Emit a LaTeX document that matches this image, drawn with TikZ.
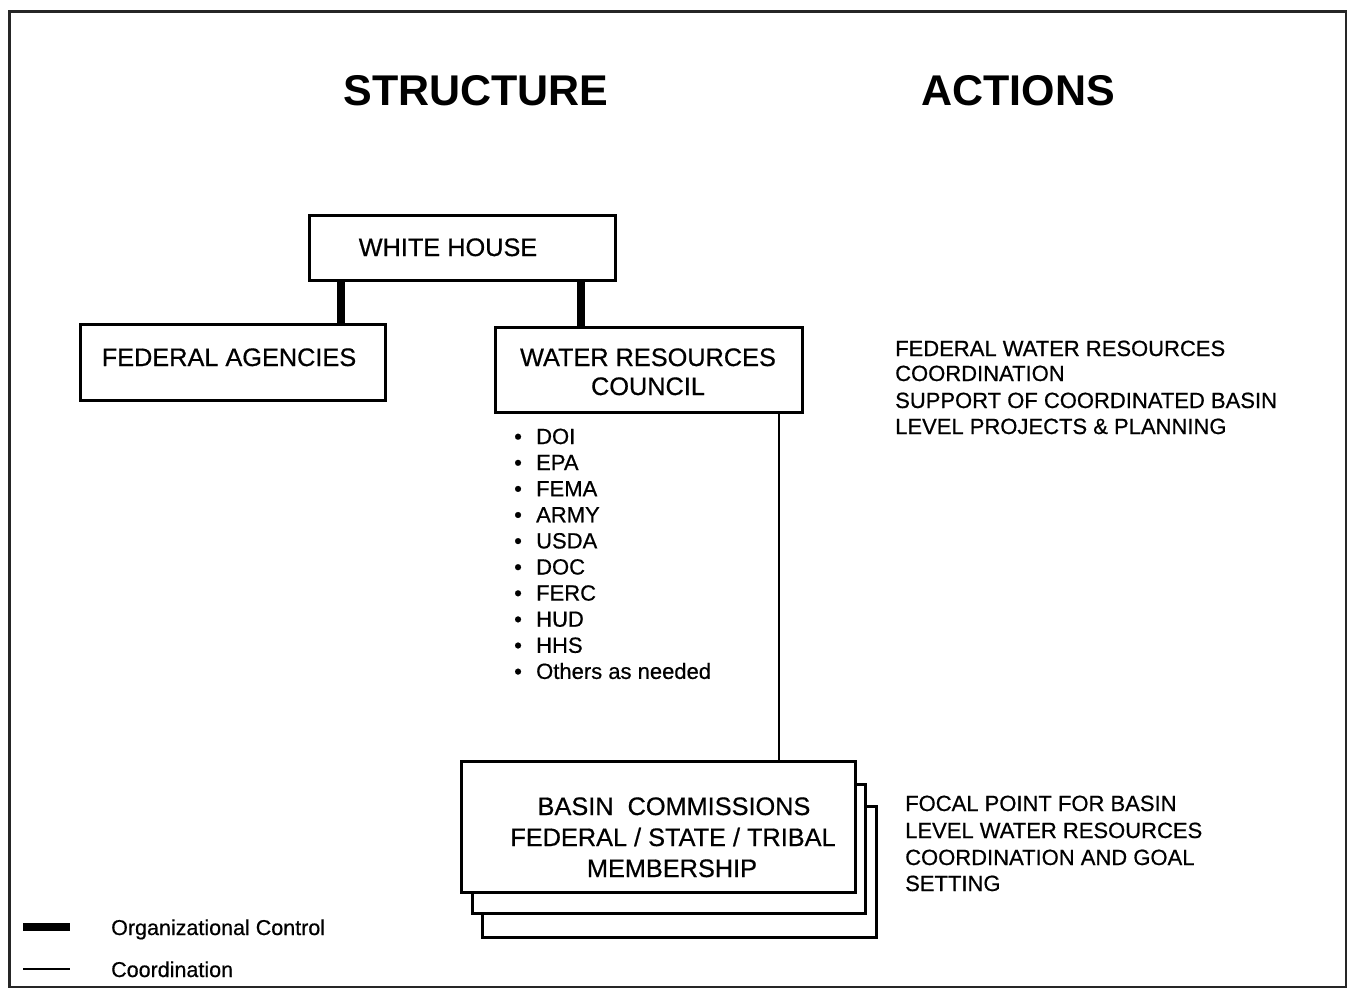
\documentclass[tikz,border=0pt]{standalone}
\usepackage{fontspec}
\setmainfont{Liberation Sans}[UprightFeatures={FakeBold=0.6}]
\begin{document}
\begin{tikzpicture}[x=1pt,y=-1pt,
  box/.style={draw=black, line width=3pt, fill=white, inner sep=0pt},
  ctrl/.style={line width=8pt},
  coordl/.style={line width=1.8pt},
  lbl/.style={anchor=base west, inner sep=0pt, font=\fontsize{22}{26}\selectfont},
  leg/.style={anchor=base west, inner sep=0pt, font=\fontsize{21.5}{26}\selectfont},
  boxtxt/.style={anchor=base, inner sep=0pt, font=\fontsize{25.3}{30}\selectfont},
  ttl/.style={anchor=base, inner sep=0pt, font=\bfseries\fontsize{43}{50}\selectfont}]
\useasboundingbox (0,0) rectangle (1347,988);
\fill[white] (0,0) rectangle (1347,988);
\draw[black!85, line width=3pt] (9,11) rectangle (1346,987);

% titles
\node[ttl] (tstruct) at (476,105) {STRUCTURE};
\node[ttl] (tact) at (1018,105) {ACTIONS};

% boxes
\node[box, minimum width=306pt, minimum height=65pt] (wh) at (462,247.5) {};
\node[boxtxt] (whtxt) at (448,256) {WHITE HOUSE};
\node[box, minimum width=305pt, minimum height=76pt] (fa) at (232.5,362) {};
\node[boxtxt] (fatxt) at (229,366) {FEDERAL AGENCIES};
\node[box, minimum width=307pt, minimum height=85pt] (wrc) at (648.5,369.5) {};
\node[boxtxt] (wrctxt1) at (648,366) {WATER RESOURCES};
\node[boxtxt] (wrctxt2) at (648,395) {COUNCIL};

% basin commission stack
\node[box, minimum width=394pt, minimum height=131pt] (bc3) at (679,871.5) {};
\node[box, minimum width=393pt, minimum height=129pt] (bc2) at (668.5,848.5) {};
\node[box, minimum width=394pt, minimum height=131pt] (bc1) at (658,827) {};
\node[boxtxt] (bct1) at (674,815) {BASIN\ \ COMMISSIONS};
\node[boxtxt] (bct2) at (673,846) {FEDERAL / STATE / TRIBAL};
\node[boxtxt] (bct3) at (672,877) {MEMBERSHIP};

% connectors
\coordinate (k1) at (341,0);
\coordinate (k2) at (581,0);
\coordinate (k3) at (779,0);
\draw[ctrl] (wh.south -| k1) -- (fa.north -| k1);
\draw[ctrl] (wh.south -| k2) -- (wrc.north -| k2);
\draw[coordl] (wrc.south -| k3) -- (bc1.north -| k3);

% member list
\foreach \t [count=\i from 0] in {DOI,EPA,FEMA,ARMY,USDA,DOC,FERC,HUD,HHS,Others as needed}{
  \node[lbl] (m\i) at (514,444+26.1*\i) {\makebox[22pt][l]{•}\t};
}

% actions
\node[lbl] (a1) at (895,356) {FEDERAL WATER RESOURCES};
\node[lbl] (a2) at (895,381) {COORDINATION};
\node[lbl] (a3) at (895,408) {SUPPORT OF COORDINATED BASIN};
\node[lbl] (a4) at (895,434) {LEVEL PROJECTS \& PLANNING};
\node[lbl] (f1) at (905,811) {FOCAL POINT FOR BASIN};
\node[lbl] (f2) at (905,838) {LEVEL WATER RESOURCES};
\node[lbl] (f3) at (905,865) {COORDINATION AND GOAL};
\node[lbl] (f4) at (905,891) {SETTING};

% legend
\coordinate (lg1a) at (23,927);
\coordinate (lg1b) at (70,927);
\coordinate (lg2a) at (23,969);
\coordinate (lg2b) at (70,969);
\draw[ctrl] (lg1a) -- (lg1b);
\draw[coordl] (lg2a) -- (lg2b);
\node[leg] (lgt1) at (111,935) {Organizational Control};
\node[leg] (lgt2) at (111,977) {Coordination};
\end{tikzpicture}
\end{document}
